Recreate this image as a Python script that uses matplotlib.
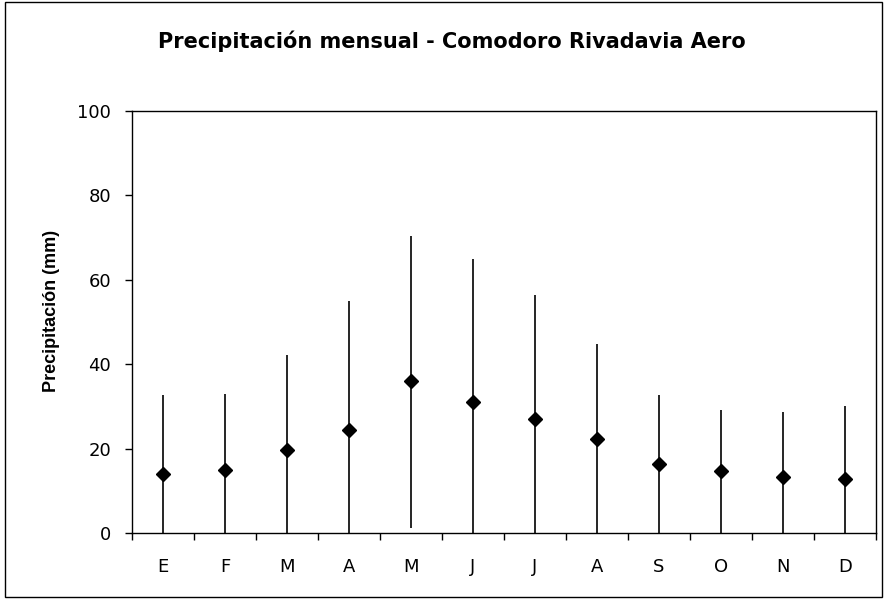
import matplotlib
matplotlib.use("Agg")
import matplotlib.pyplot as plt
from matplotlib.patches import Rectangle
import numpy as np

months = ["E", "F", "M", "A", "M", "J", "J", "A", "S", "O", "N", "D"]
mean_mm = [14.0, 15.0, 19.7, 24.5, 36.1, 31.2, 27.0, 22.3, 16.4, 14.8, 13.4, 12.9]
low_mm = [0.0, 0.0, 0.0, 0.0, 1.3, 0.0, 0.0, 0.0, 0.0, 0.0, 0.0, 0.0]
high_mm = [32.7, 33.1, 42.2, 55.1, 70.5, 64.9, 56.4, 44.8, 32.7, 29.2, 28.8, 30.1]
yticks = [0, 20, 40, 60, 80, 100]

plt.rcParams['font.family'] = ['DejaVu Sans']

fig = plt.figure(figsize=(8.85, 6.0), dpi=100)
ax = fig.add_axes([132/885, 1-533.3/600, (876-132)/885, (533.3-111)/600])

x = np.arange(len(months))
mean = np.array(mean_mm)
yerr = [mean - np.array(low_mm), np.array(high_mm) - mean]
ax.errorbar(x, mean, yerr=yerr, fmt='D', color='black', ecolor='black',
            elinewidth=1.2, capsize=0, markersize=7.5)

ax.set_xlim(-0.5, len(months) - 0.5)
ax.set_ylim(0, 100)
ax.set_yticks(yticks)
ax.set_yticklabels([str(v) for v in yticks], fontsize=13)
ax.set_xticks(np.arange(-0.5, len(months), 1.0))
ax.set_xticklabels([])
ax.set_xticks(x, minor=True)
ax.set_xticklabels(months, minor=True, fontsize=13)
ax.tick_params(axis='x', which='minor', length=0, pad=18)
ax.tick_params(axis='x', which='major', direction='out', length=5, width=1)
ax.tick_params(axis='y', direction='out', length=5, width=1, pad=10)
for s in ax.spines.values():
    s.set_linewidth(1)
    s.set_color('black')

ax.set_ylabel("Precipitación (mm)", fontsize=13, fontweight='bold',
              family=['Liberation Sans', 'DejaVu Sans'])
ax.yaxis.set_label_coords((60-132)/744, (533.3-310.5)/422.3)
fig.text(451.5/885, 1 - 48/600, "Precipitación mensual - Comodoro Rivadavia Aero",
         ha='center', va='baseline', fontsize=15, fontweight='bold')

fig.patches.append(Rectangle((5/885, 3/600), 877/885, 595/600, transform=fig.transFigure,
                             fill=False, edgecolor='black', linewidth=1))

fig.savefig("out.png", dpi=100)
